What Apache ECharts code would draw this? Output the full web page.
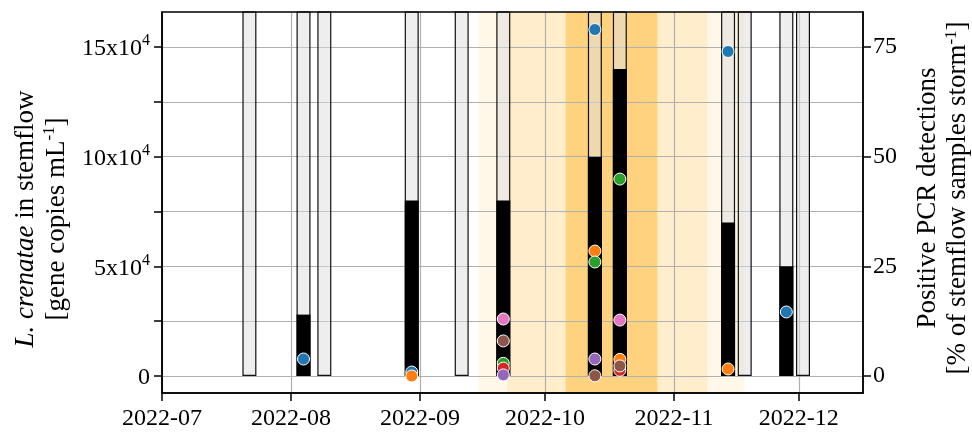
<!DOCTYPE html>
<html>
<head>
<meta charset="utf-8">
<script src="https://cdn.jsdelivr.net/npm/echarts@6/dist/echarts.min.js"></script>
<style>
  html, body { margin: 0; padding: 0; background: #ffffff; }
  #chart { width: 972px; height: 433px; }
</style>
</head>
<body>
<div id="chart"></div>
<script>
// ---- storm events ----
const stormDates = ['2022-07-22', '2022-08-04', '2022-08-09', '2022-08-30', '2022-09-11', '2022-09-21',
                    '2022-10-13', '2022-10-19', '2022-11-14', '2022-11-18', '2022-11-28', '2022-12-02'];
// share of stemflow samples analysed per storm (%)
const sampledPct  = [100, 100, 100, 100, 100, 100, 100, 100, 100, 100, 100, 100];
// share of stemflow samples with a positive PCR detection (%)
const positivePct = [0, 14, 0, 40, 0, 40, 50, 70, 35, 0, 25, 0];

// ---- L. crenatae concentration per tree and storm (gene copies mL-1) ----
const tree1 = [null, 7750, null, 1800, null, null, 158000, null, 148000, null, 29200, null];
const tree2 = [null, null, null, 0, null, null, 57000, 7600, 3200, null, null, null];
const tree3 = [null, null, null, null, null, 5800, 52000, 89800, null, null, null, null];
const tree4 = [null, null, null, null, null, 3600, null, 2600, null, null, null, null];
const tree5 = [null, null, null, null, null, 500, 7750, null, null, null, null, null];
const tree6 = [null, null, null, null, null, 16000, 100, 4600, null, null, null, null];
const tree7 = [null, null, null, null, null, 26000, null, 25500, null, null, null, null];
const treeNames = ['Tree 1', 'Tree 2', 'Tree 3', 'Tree 4', 'Tree 5', 'Tree 6', 'Tree 7'];

// ---- highlighted periods ----
const periodStart = ['2022-09-15', '2022-09-22', '2022-10-06'];
const periodEnd   = ['2022-11-18', '2022-11-09', '2022-10-28'];

// ---- axis ticks ----
const monthTicks = ['2022-07-01', '2022-08-01', '2022-09-01', '2022-10-01', '2022-11-01', '2022-12-01'];
const leftTicks  = [0, 25000, 50000, 75000, 100000, 125000, 150000];
const leftLabels = [0, 50000, 100000, 150000];
const rightTicks = [0, 25, 50, 75];

// ---- styling ----
const FONT = '"Liberation Serif", "DejaVu Serif", serif';
const treeColors = ['#1f77b4', '#ff7f0e', '#2ca02c', '#d62728', '#9467bd', '#8c564b', '#e377c2'];
const periodOpacity = [0.09, 0.12, 0.37];
const gridColor = '#b0b0b0';

// dates become millisecond timestamps on a linear value axis
const ts = d => {
  const [y, m, dd] = d.split('-').map(Number);
  return Date.UTC(y, m - 1, dd);
};
const monthLabel = v => {
  const dt = new Date(v);
  return dt.getUTCFullYear() + '-' + String(dt.getUTCMonth() + 1).padStart(2, '0');
};

const chart = echarts.init(document.getElementById('chart'), null, { renderer: 'canvas' });

const treeSeries = [tree1, tree2, tree3, tree4, tree5, tree6, tree7].map((vals, k) => ({
  name: treeNames[k],
  type: 'scatter',
  xAxisIndex: 0,
  yAxisIndex: 0,
  symbol: 'circle',
  symbolSize: 12,
  z: 4,
  itemStyle: { color: treeColors[k], borderColor: '#ffffff', borderWidth: 1, opacity: 1 },
  data: stormDates.map((d, i) => vals[i] == null ? null : [ts(d), vals[i]]).filter(p => p)
}));

const option = {
  animation: false,
  backgroundColor: '#ffffff',
  grid: {
    left: 162, right: 109, top: 12, bottom: 40,
    show: true, z: 10,
    borderColor: '#000000', borderWidth: 1.5,
    backgroundColor: 'transparent'
  },
  xAxis: {
    type: 'value',
    min: ts('2022-07-01'),
    max: ts('2022-12-16') + 10 * 3600 * 1000,
    axisLine: { show: true, onZero: false, lineStyle: { color: '#000', width: 1.5 } },
    axisTick: { show: true, length: 8, lineStyle: { color: '#000', width: 1.5 },
                customValues: monthTicks.map(ts) },
    axisLabel: {
      customValues: monthTicks.map(ts),
      formatter: monthLabel,
      fontFamily: FONT, fontSize: 24, color: '#000', margin: 14
    },
    splitLine: { show: true, lineStyle: { color: gridColor, width: 1.2 } }
  },
  yAxis: [
    {
      type: 'value',
      position: 'left',
      min: -7750, max: 166000,
      axisLine: { show: true, lineStyle: { color: '#000', width: 1.5 } },
      axisTick: { show: true, length: 8, lineStyle: { color: '#000', width: 1.5 }, customValues: leftTicks },
      axisLabel: {
        customValues: leftLabels,
        formatter: v => v === 0 ? '{m|0}' : '{m|' + (v / 10000) + 'x10}{s|4}',
        margin: 12,
        rich: {
          m: { fontFamily: FONT, fontSize: 24, color: '#000', lineHeight: 28, verticalAlign: 'bottom' },
          s: { fontFamily: FONT, fontSize: 16, color: '#000', lineHeight: 16, verticalAlign: 'top' }
        }
      },
      splitLine: { show: true, lineStyle: { color: gridColor, width: 1.2 } }
    },
    {
      type: 'value',
      position: 'right',
      min: -3.875, max: 83,
      axisLine: { show: true, lineStyle: { color: '#000', width: 1.5 } },
      axisTick: { show: true, length: 8, lineStyle: { color: '#000', width: 1.5 }, customValues: rightTicks },
      axisLabel: { customValues: rightTicks, fontFamily: FONT, fontSize: 24, color: '#000', margin: 10 },
      splitLine: { show: false }
    }
  ],
  graphic: [
    {
      type: 'text', x: 41, y: 219, rotation: Math.PI / 2, silent: true,
      style: {
        text: '{i|L. crenatae} in stemflow\n[gene copies mL{s|-1}]',
        fontFamily: FONT, fontSize: 27, fill: '#000', lineHeight: 31,
        align: 'center', verticalAlign: 'middle',
        rich: {
          i: { fontFamily: FONT, fontSize: 27, fontStyle: 'italic', fill: '#000', lineHeight: 31 },
          s: { fontFamily: FONT, fontSize: 17, fill: '#000', lineHeight: 17, verticalAlign: 'top' }
        }
      }
    },
    {
      type: 'text', x: 943, y: 198, rotation: Math.PI / 2, silent: true,
      style: {
        text: 'Positive PCR detections\n[% of stemflow samples storm{s|-1}]',
        fontFamily: FONT, fontSize: 27, fill: '#000', lineHeight: 30,
        align: 'center', verticalAlign: 'middle',
        rich: {
          s: { fontFamily: FONT, fontSize: 17, fill: '#000', lineHeight: 17, verticalAlign: 'top' }
        }
      }
    }
  ],
  series: [
    {
      name: 'periods',
      type: 'custom',
      xAxisIndex: 0, yAxisIndex: 0,
      z: -1, silent: true,
      encode: { x: [0, 1] },
      data: periodStart.map((d, i) => [ts(d), ts(periodEnd[i])]),
      renderItem: (params, api) => {
        const x0 = api.coord([api.value(0), 0])[0];
        const x1 = api.coord([api.value(1), 0])[0];
        const cs = params.coordSys;
        return {
          type: 'rect',
          shape: { x: x0, y: cs.y, width: x1 - x0, height: cs.height },
          style: { fill: 'rgba(255,165,0,' + periodOpacity[params.dataIndex] + ')' }
        };
      }
    },
    {
      name: 'sampled',
      type: 'bar',
      xAxisIndex: 0, yAxisIndex: 1,
      barWidth: 14,
      barGap: '-100%',
      z: 2,
      itemStyle: { color: 'rgba(222,222,222,0.5)', borderColor: '#111', borderWidth: 1.2 },
      data: stormDates.map((d, i) => [ts(d), sampledPct[i]])
    },
    {
      name: 'positive',
      type: 'bar',
      xAxisIndex: 0, yAxisIndex: 1,
      barWidth: 14,
      barGap: '-100%',
      z: 3,
      itemStyle: { color: '#000000' },
      data: stormDates.map((d, i) => [ts(d), positivePct[i]])
    }
  ].concat(treeSeries)
};

chart.setOption(option);
</script>
</body>
</html>
